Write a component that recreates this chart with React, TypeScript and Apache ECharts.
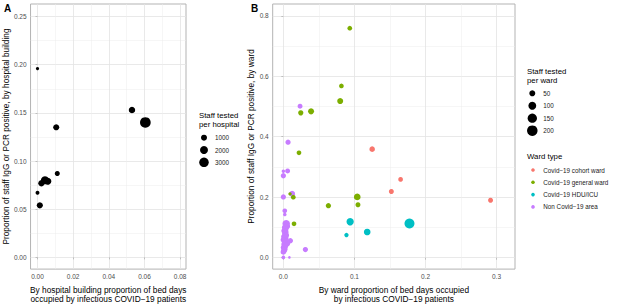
import React, { useEffect, useRef } from "react";
import * as echarts from "echarts";

// ---------- Data ----------
// Panel A: hospital buildings
const hospitalX = [0.0, 0.0105, 0.053, 0.0605, 0.0111, 0.0, 0.0013, 0.0022, 0.0042, 0.0058];
const hospitalY = [0.196, 0.135, 0.153, 0.14, 0.087, 0.067, 0.054, 0.077, 0.08, 0.079];
const hospitalStaff = [180, 1000, 1200, 3900, 650, 320, 1050, 1150, 2100, 1500];

const axisATicksX = [0, 0.02, 0.04, 0.06, 0.08];
const axisATicksY = [0, 0.05, 0.1, 0.15, 0.2, 0.25];
const sizeLegendA = [1000, 2000, 3000];

// Panel B: wards  [x, y, staff tested]
const wardTypes = ["Covid\u221219 cohort ward", "Covid\u221219 general ward", "Covid\u221219 HDU/ICU", "Non Covid\u221219 area"];
const wardColors = ["#F8766D", "#7CAE00", "#00BFC4", "#C77CFF"];

const cohortWards = [
  [0.125, 0.359, 40],
  [0.165, 0.259, 25],
  [0.152, 0.219, 30],
  [0.2916, 0.19, 30],
];
const generalWards = [
  [0.0935, 0.759, 25],
  [0.0817, 0.568, 25],
  [0.08, 0.518, 50],
  [0.0245, 0.479, 35],
  [0.039, 0.484, 50],
  [0.022, 0.347, 25],
  [0.104, 0.201, 66],
  [0.105, 0.175, 30],
  [0.0634, 0.172, 35],
  [0.0094, 0.211, 9],
  [0.014, 0.2, 25],
  [0.015, 0.112, 25],
];
const icuWards = [
  [0.094, 0.119, 84],
  [0.0888, 0.075, 20],
  [0.118, 0.085, 66],
  [0.1775, 0.113, 178],
];
const nonCovidWards = [
  [0.0235, 0.501, 30],
  [0.0066, 0.382, 35],
  [0.0, 0.286, 9],
  [0.006, 0.287, 30],
  [0.0, 0.271, 35],
  [0.0, 0.201, 35],
  [0.0123, 0.211, 50],
  [0.002, 0.155, 25],
  [0.002, 0.143, 10],
  [0.004, 0.112, 90],
  [0.005, 0.104, 60],
  [0.002, 0.1, 45],
  [0.003, 0.094, 50],
  [0.001, 0.089, 40],
  [0.003, 0.084, 55],
  [0.002, 0.079, 40],
  [0.004, 0.074, 45],
  [0.001, 0.069, 50],
  [0.003, 0.064, 55],
  [0.0, 0.059, 40],
  [0.004, 0.054, 45],
  [0.002, 0.049, 50],
  [0.001, 0.044, 40],
  [0.003, 0.039, 40],
  [0.0, 0.034, 35],
  [0.002, 0.029, 45],
  [0.001, 0.024, 50],
  [0.0, 0.019, 40],
  [0.006, 0.046, 30],
  [0.0099, 0.056, 35],
  [0.031, 0.027, 35],
  [0.0, 0.001, 12],
  [0.0085, 0.001, 3],
];

const axisBTicksX = [0, 0.1, 0.2, 0.3];
const axisBTicksY = [0, 0.2, 0.4, 0.6, 0.8];
const sizeLegendB = [50, 100, 150, 200];

// ---------- Styling helpers ----------
const sizeA = (v: number) => 1.23 + 0.151 * Math.sqrt(v);
const sizeB = (v: number) => 1.5 + 0.636 * Math.sqrt(v);
const FONT = "Liberation Sans, Arial, Helvetica, sans-serif";
const BORDER = "#B3B3B3";
const GRID = "#E3E3E3";
const TICKTXT = "#4D4D4D";

const fmt = (ticks: number[], d: number) => (v: number) =>
  ticks.some((t) => Math.abs(t - v) < 1e-9) ? v.toFixed(d) : "";

function valueAxis(opts: any) {
  const { gridIndex, min, max, step, ticks, dec, name, nameGap } = opts;
  return {
    type: "value",
    gridIndex,
    min,
    max,
    minInterval: step,
    maxInterval: step,
    splitNumber: 5,
    name,
    nameLocation: "middle",
    nameGap,
    nameTextStyle: { fontFamily: FONT, fontSize: 8.3, color: "#000", lineHeight: 9 },
    axisLine: { show: false },
    axisTick: { show: true, length: 2, lineStyle: { color: BORDER, width: 0.8 }, customValues: ticks },
    axisLabel: {
      show: true,
      margin: 4,
      fontFamily: FONT,
      fontSize: 6.5,
      color: TICKTXT,
      customValues: ticks,
      formatter: fmt(ticks, dec),
    },
    splitLine: { show: true, lineStyle: { color: GRID, width: 0.8 } },
    minorTick: { show: false, splitNumber: 2 },
    minorSplitLine: { show: true, lineStyle: { color: "#EDEDED", width: 0.5 } },
  };
}

export default function App() {
  const ref = useRef<HTMLDivElement>(null);

  useEffect(() => {
    if (!ref.current) return;
    const chart = echarts.init(ref.current, undefined, { renderer: "svg" });

    const hospitalData = hospitalX.map((x, i) => [x, hospitalY[i], hospitalStaff[i]]);
    const wardGroups = [cohortWards, generalWards, icuWards, nonCovidWards];

    const graphics: any[] = [];
    const txt = (x: number, y: number, s: string, size: number, extra: any = {}) => ({
      type: "text",
      x,
      y,
      style: { text: s, fontFamily: FONT, fontSize: size, fill: "#000", verticalAlign: "middle", ...extra },
    });
    graphics.push(txt(4, 8, "A", 10, { fontWeight: "bold" }));
    graphics.push(txt(251, 8, "B", 10, { fontWeight: "bold" }));

    // Size legend A
    graphics.push(txt(199, 115.7, "Staff tested", 7.8));
    graphics.push(txt(199, 124.5, "per hospital", 7.8));
    sizeLegendA.forEach((v, i) => {
      const cy = 137.7 + i * 12.3;
      graphics.push({ type: "circle", shape: { cx: 204, cy, r: sizeA(v) / 2 }, style: { fill: "#000" } });
      graphics.push(txt(215, cy, String(v), 6.3, { fill: "#1a1a1a" }));
    });

    // Size legend B
    graphics.push(txt(527, 71.7, "Staff tested", 7.8));
    graphics.push(txt(527, 80.5, "per ward", 7.8));
    sizeLegendB.forEach((v, i) => {
      const cy = 93.3 + i * 12.45;
      graphics.push({ type: "circle", shape: { cx: 532.3, cy, r: sizeB(v) / 2 }, style: { fill: "#000" } });
      graphics.push(txt(543.3, cy, String(v), 6.3, { fill: "#1a1a1a" }));
    });

    // Ward type legend
    graphics.push(txt(527, 156, "Ward type", 7.8));
    wardTypes.forEach((name, i) => {
      const cy = 170 + i * 12.3;
      graphics.push({ type: "circle", shape: { cx: 533, cy, r: 1.8 }, style: { fill: wardColors[i] } });
      graphics.push(txt(543.3, cy, name, 6.3, { fill: "#1a1a1a" }));
    });

    chart.setOption({
      animation: false,
      backgroundColor: "#fff",
      textStyle: { fontFamily: FONT },
      grid: [
        { left: 29, top: 4, width: 157, height: 272, show: true, borderColor: BORDER, borderWidth: 1, backgroundColor: "transparent", containLabel: false },
        { left: 272.7, top: 4, width: 242.3, height: 272, show: true, borderColor: BORDER, borderWidth: 1, backgroundColor: "transparent", containLabel: false },
      ],
      xAxis: [
        valueAxis({ gridIndex: 0, min: -0.0039, max: 0.0833, step: 0.02, ticks: axisATicksX, dec: 2, nameGap: 12,
          name: "By hospital building proportion of bed days\noccupied by infectious COVID\u221219 patients" }),
        valueAxis({ gridIndex: 1, min: -0.015, max: 0.326, step: 0.1, ticks: axisBTicksX, dec: 1, nameGap: 12,
          name: "By ward proportion of bed days occupied\nby infectious COVID\u221219 patients" }),
      ],
      yAxis: [
        valueAxis({ gridIndex: 0, min: -0.0122, max: 0.263, step: 0.05, ticks: axisATicksY, dec: 2, nameGap: 18,
          name: "Proportion of staff IgG or PCR positive, by hospital building" }),
        valueAxis({ gridIndex: 1, min: -0.0377, max: 0.839, step: 0.2, ticks: axisBTicksY, dec: 1, nameGap: 15,
          name: "Proportion of staff IgG or PCR positive, by ward" }),
      ],
      series: [
        {
          type: "scatter",
          xAxisIndex: 0,
          yAxisIndex: 0,
          data: hospitalData,
          symbolSize: (val: number[]) => sizeA(val[2]),
          itemStyle: { color: "#000", opacity: 1 },
          emphasis: { disabled: true },
        },
        ...wardGroups.map((g, i) => ({
          type: "scatter",
          name: wardTypes[i],
          xAxisIndex: 1,
          yAxisIndex: 1,
          data: g,
          symbolSize: (val: number[]) => sizeB(val[2]),
          itemStyle: { color: wardColors[i], opacity: 1 },
          emphasis: { disabled: true },
          z: 2 + (i === 3 ? 0 : 1),
        })),
      ],
      graphic: graphics,
    });

    return () => chart.dispose();
  }, []);

  return <div ref={ref} style={{ position: "fixed", left: 0, top: 0, width: 617, height: 308 }} />;
}
